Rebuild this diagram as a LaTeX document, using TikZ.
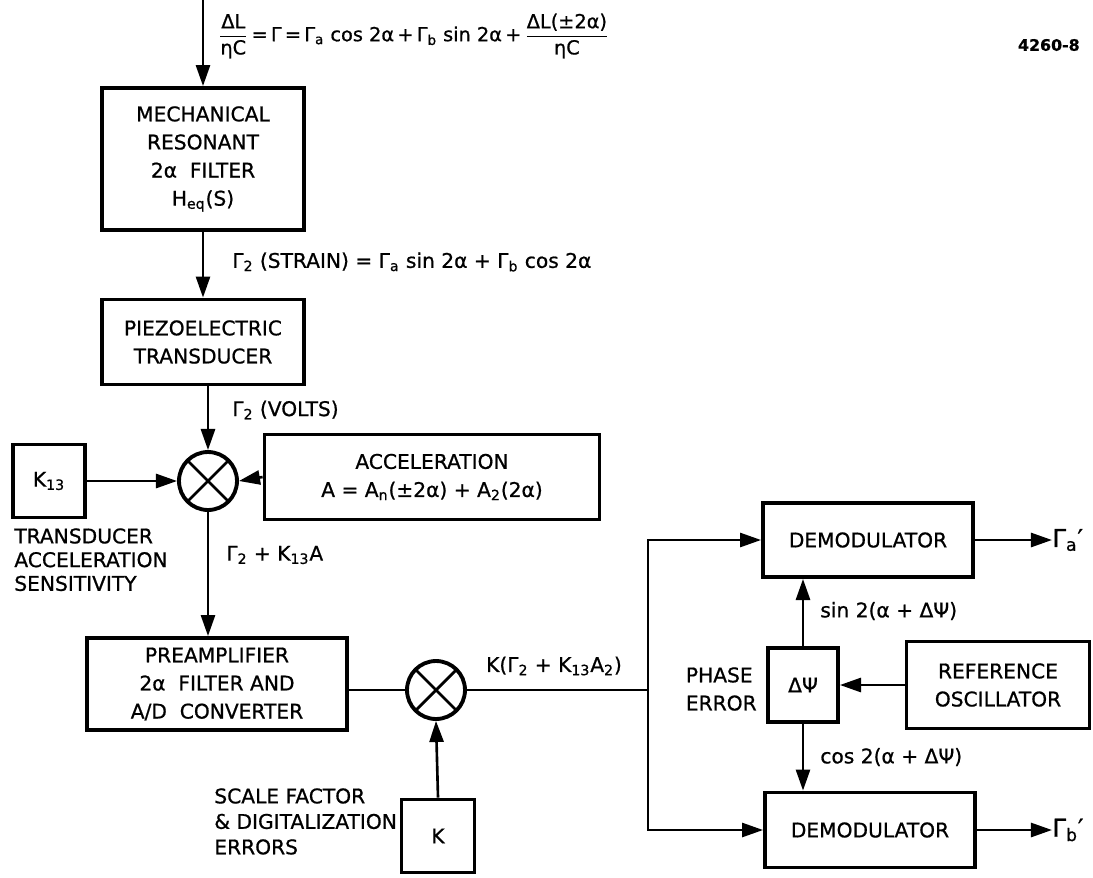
\documentclass[tikz,border=0pt]{standalone}
\usepackage{amsmath}
\usepackage{fontspec}
\setmainfont{DejaVu Sans}[FakeBold=0.8]
\usetikzlibrary{arrows.meta, positioning}
\newcommand{\blockfont}{\fontsize{11.5}{16}\selectfont}
\newcommand{\lo}[1]{\textsubscript{#1}}
\tikzstyle{block} = [rectangle, draw=black, line width=2.2pt, align=center,
                     inner sep=0pt, font=\blockfont]
\tikzstyle{mixer} = [circle, draw=black, line width=2.2pt, minimum size=1.16cm,
                     inner sep=0pt,
                     path picture={\draw[line width=1.6pt]
                       (path picture bounding box.north west) -- (path picture bounding box.south east)
                       (path picture bounding box.south west) -- (path picture bounding box.north east);}]
\tikzstyle{arrow} = [line width=1.5pt, -{Triangle[length=12pt,width=8pt]}]
\tikzstyle{wire}  = [line width=1.5pt]
\tikzstyle{lbl}   = [inner sep=0pt, font=\blockfont, align=left]

\begin{document}
\begin{tikzpicture}[x=0.02cm, y=-0.02cm]
\useasboundingbox (0,0) rectangle (1093,877);

% forward path
\node (mech)   [block, minimum width=4.04cm, minimum height=2.84cm] at (203,159)
               {MECHANICAL\\RESONANT\\2α\ \ FILTER\\H\lo{eq}(S)};
\node (piezo)  [block, minimum width=4.04cm, minimum height=1.7cm] at (203,342)
               {PIEZOELECTRIC\\TRANSDUCER};
\node (mixA)   [mixer] at (208,481) {};
\node (ktt)    [block, minimum width=1.44cm, minimum height=1.46cm] at (49,481)
               {K\lo{13}};
\node (accel)  [block, minimum width=6.7cm, minimum height=1.7cm] at (432,477)
               {ACCELERATION\\A = A\lo{n}(±2α) + A\lo{2}(2α)};
\node (preamp) [block, minimum width=5.2cm, minimum height=1.84cm] at (217,684)
               {PREAMPLIFIER\\2α\ \ FILTER AND\\A/D\ \ CONVERTER};
\node (mixB)   [mixer] at (436,690) {};
\node (kbox)   [block, minimum width=1.46cm, minimum height=1.46cm] at (438,836)
               {K};

% demodulation
\node (demodA) [block, minimum width=4.2cm, minimum height=1.48cm] at (868,540)
               {DEMODULATOR};
\node (phase)  [block, minimum width=1.4cm, minimum height=1.48cm] at (803,685)
               {ΔΨ};
\node (refosc) [block, minimum width=3.66cm, minimum height=1.74cm] at (998,685)
               {REFERENCE\\OSCILLATOR};
\node (demodB) [block, minimum width=4.2cm, minimum height=1.5cm] at (870,830)
               {DEMODULATOR};
\node (gA) [lbl, anchor=west, font=\fontsize{14}{16}\selectfont] at (1052,540) {Γ\lo{a}′};
\node (gB) [lbl, anchor=west, font=\fontsize{14}{16}\selectfont] at (1052,830) {Γ\lo{b}′};

\coordinate (in)  at (203,0);
\coordinate (bus) at (648,690);

% labels
\node (eq) [lbl, anchor=west, font=\fontsize{11}{14}\selectfont] at (218,36)
  {$\dfrac{\text{ΔL}}{\text{ηC}}$\,=\,Γ\,=\,Γ\lo{a} cos 2α\,+\,Γ\lo{b} sin 2α\,+\,$\dfrac{\text{ΔL(±2α)}}{\text{ηC}}$};
\node (fig) [lbl, anchor=east, font=\fontsize{9}{11}\selectfont\bfseries] at (1080,45) {4260-8};
\node (strain) [lbl, anchor=west] at (232,262)
  {Γ\lo{2} (STRAIN) = Γ\lo{a} sin 2α + Γ\lo{b} cos 2α};
\node (volts)  [lbl, anchor=west] at (232,410) {Γ\lo{2} (VOLTS)};
\node (sens)   [lbl, anchor=north west, font=\fontsize{11.5}{13.5}\selectfont] at (14,528)
  {TRANSDUCER\\ACCELERATION\\SENSITIVITY};
\node (sum)    [lbl, anchor=west] at (226,555) {Γ\lo{2} + K\lo{13}A};
\node (kout)   [lbl] at (554,666) {K(Γ\lo{2} + K\lo{13}A\lo{2})};
\node (scale)  [lbl, anchor=north west, font=\fontsize{11.5}{14.5}\selectfont] at (214,788)
  {SCALE FACTOR\\\& DIGITALIZATION\\ERRORS};
\node (perr)   [lbl, anchor=east, align=left] at (757,689) {PHASE\\ERROR};
\node (sinl)   [lbl, anchor=west] at (820,611) {sin 2(α + ΔΨ)};
\node (cosl)   [lbl, anchor=west] at (820,757) {cos 2(α + ΔΨ)};

% connectors
\draw [arrow] (in) -- (mech.north);
\draw [arrow] (mech.south) -- (piezo.north);
\draw [arrow] (piezo.south -| mixA) -- (mixA.north);
\draw [arrow] (ktt.east) -- (mixA.west);
\draw [arrow] (accel.west) -- (mixA.east);
\draw [arrow] (mixA.south) -- (mixA |- preamp.north);
\draw [wire]  (preamp.east |- mixB) -- (mixB.west);
\draw [arrow] (kbox.north) -- (mixB.south);
\draw [wire]  (mixB.east) -- (bus);
\draw [arrow] (bus) |- (demodA.west);
\draw [arrow] (bus) |- (demodB.west);
\draw [arrow] (phase.north) -- (phase.north |- demodA.south);
\draw [arrow] (phase.south) -- (phase.south |- demodB.north);
\draw [arrow] (refosc.west) -- (phase.east);
\draw [arrow] (demodA.east) -- (gA.west);
\draw [arrow] (demodB.east) -- (gB.west);

\end{tikzpicture}
\end{document}
